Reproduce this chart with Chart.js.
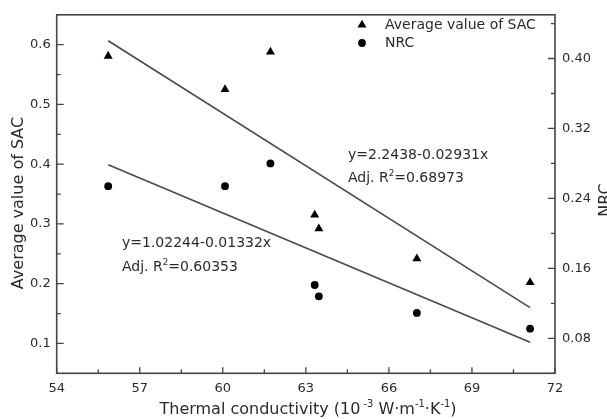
<!DOCTYPE html>
<html>
<head>
<meta charset="utf-8">
<script src="https://cdn.jsdelivr.net/npm/chart.js@4.4.1/dist/chart.umd.min.js"></script>
<style>
  html, body { margin: 0; padding: 0; background: #fff; }
  #chart { display: block; }
</style>
</head>
<body>
<canvas id="chart" width="607" height="419"></canvas>
<script>
// Conductividad térmica de las muestras (10^-3 W·m^-1·K^-1)
const thermal = [55.86, 60.08, 61.72, 63.32, 63.47, 67.01, 71.1];
// Valor medio del coeficiente de absorción (eje izquierdo)
const sacAvg = [0.581, 0.525, 0.588, 0.315, 0.292, 0.242, 0.202];
// NRC (eje derecho)
const nrc = [0.254, 0.254, 0.280, 0.141, 0.128, 0.109, 0.091];

// Rectas de ajuste: extremos en x y valores de cada recta
const fitX = [55.86, 71.1];
const sacFit = [0.6066, 0.1598];   // y=2.2438-0.02931x
const nrcFit = [0.2784, 0.0754];   // y=1.02244-0.01332x

const sacLabels = ['y=2.2438-0.02931x', '0.68973'];
const nrcLabels = ['y=1.02244-0.01332x', '0.60353'];

const FONT = '"DejaVu Sans", Arial, sans-serif';
const INK = '#2b2b2b';

function pts(xs, ys) {
  return xs.map((x, i) => ({ x: x, y: ys[i] }));
}

// Texto con superíndices: partes [{t, sup}]
function richWidth(ctx, parts, size) {
  let w = 0;
  parts.forEach(p => {
    ctx.font = (p.sup ? size * 0.62 : size) + 'px ' + FONT;
    w += ctx.measureText(p.t).width;
  });
  return w;
}
function drawRich(ctx, parts, x, y, size, align) {
  let cx = align === 'center' ? x - richWidth(ctx, parts, size) / 2 : x;
  ctx.textAlign = 'left';
  ctx.textBaseline = 'alphabetic';
  parts.forEach(p => {
    ctx.font = (p.sup ? size * 0.62 : size) + 'px ' + FONT;
    ctx.fillText(p.t, cx, p.sup ? y - size * 0.42 : y);
    cx += ctx.measureText(p.t).width;
  });
}

function triangle(ctx, x, y, r) {
  ctx.beginPath();
  ctx.moveTo(x, y - r);
  ctx.lineTo(x + r * 0.866, y + r * 0.5);
  ctx.lineTo(x - r * 0.866, y + r * 0.5);
  ctx.closePath();
  ctx.fill();
}
function dot(ctx, x, y, r) {
  ctx.beginPath();
  ctx.arc(x, y, r, 0, Math.PI * 2);
  ctx.fill();
}

// Marco, marcas hacia dentro, títulos, leyenda y ecuaciones
const decorPlugin = {
  id: 'decor',
  afterDatasetsDraw(chart) {
    const ctx = chart.ctx;
    const a = chart.chartArea;
    const sx = chart.scales.x, sy = chart.scales.y, sy2 = chart.scales.y2;
    ctx.save();

    ctx.strokeStyle = '#444';
    ctx.lineWidth = 1.6;
    ctx.strokeRect(a.left, a.top, a.right - a.left, a.bottom - a.top);

    ctx.lineWidth = 1.3;
    ctx.beginPath();
    // eje x: mayores cada 3, menores cada 1.5
    for (let v = 54; v <= 72.001; v += 1.5) {
      const px = sx.getPixelForValue(v);
      const len = Math.abs((v - 54) % 3) < 0.01 ? 6 : 4;
      ctx.moveTo(px, a.bottom); ctx.lineTo(px, a.bottom - len);
    }
    // eje izquierdo
    for (let v = 0.1; v <= 0.6001; v += 0.05) {
      const py = sy.getPixelForValue(v);
      const major = Math.abs(Math.round(v * 10) - v * 10) < 0.01;
      ctx.moveTo(a.left, py); ctx.lineTo(a.left + (major ? 7 : 4), py);
    }
    // eje derecho
    for (let v = 0.04; v <= 0.44001; v += 0.04) {
      const py = sy2.getPixelForValue(v);
      const major = Math.abs(Math.round(v / 0.08) - v / 0.08) < 0.01;
      ctx.moveTo(a.right, py); ctx.lineTo(a.right - (major ? 7 : 4), py);
    }
    ctx.stroke();

    ctx.fillStyle = INK;
    // título eje x
    drawRich(ctx, [
      { t: 'Thermal conductivity (10' }, { t: ' -3', sup: true },
      { t: ' W·m' }, { t: '-1', sup: true }, { t: '·K' }, { t: '-1', sup: true }, { t: ')' }
    ], 308, 414, 16, 'center');

    // título eje izquierdo
    ctx.save();
    ctx.translate(23, 203);
    ctx.rotate(-Math.PI / 2);
    ctx.font = '16px ' + FONT;
    ctx.textAlign = 'center';
    ctx.textBaseline = 'alphabetic';
    ctx.fillText('Average value of SAC', 0, 0);
    ctx.restore();

    // título eje derecho
    ctx.save();
    ctx.translate(610, 200);
    ctx.rotate(-Math.PI / 2);
    ctx.font = '16px ' + FONT;
    ctx.textAlign = 'center';
    ctx.fillText('NRC', 0, 0);
    ctx.restore();

    // leyenda
    ctx.fillStyle = '#000';
    triangle(ctx, 362, 25, 5.2);
    dot(ctx, 362, 43, 3.9);
    ctx.fillStyle = INK;
    ctx.font = '14px ' + FONT;
    ctx.textAlign = 'left';
    ctx.textBaseline = 'middle';
    ctx.fillText(chart.data.datasets[0].label, 385, 25);
    ctx.fillText(chart.data.datasets[1].label, 385, 43);

    // ecuaciones de ajuste
    ctx.fillText(sacLabels[0], 348, 155);
    drawRich(ctx, [{ t: 'Adj. R' }, { t: '2', sup: true }, { t: '=' + sacLabels[1] }], 348, 182, 14, 'left');
    ctx.textBaseline = 'middle';
    ctx.fillText(nrcLabels[0], 122, 243);
    drawRich(ctx, [{ t: 'Adj. R' }, { t: '2', sup: true }, { t: '=' + nrcLabels[1] }], 122, 271, 14, 'left');

    ctx.restore();
  }
};

const tickFont = { family: FONT, size: 13 };

new Chart(document.getElementById('chart'), {
  type: 'scatter',
  data: {
    datasets: [{
      label: 'Average value of SAC',
      data: pts(thermal, sacAvg),
      yAxisID: 'y',
      pointStyle: 'triangle',
      pointRadius: 5.2,
      backgroundColor: '#000',
      borderWidth: 0
    }, {
      label: 'NRC',
      data: pts(thermal, nrc),
      yAxisID: 'y2',
      pointStyle: 'circle',
      pointRadius: 3.9,
      backgroundColor: '#000',
      borderWidth: 0
    }, {
      label: 'SAC fit',
      data: pts(fitX, sacFit),
      yAxisID: 'y',
      showLine: true,
      pointRadius: 0,
      borderColor: '#4a4a4a',
      borderWidth: 1.6
    }, {
      label: 'NRC fit',
      data: pts(fitX, nrcFit),
      yAxisID: 'y2',
      showLine: true,
      pointRadius: 0,
      borderColor: '#4a4a4a',
      borderWidth: 1.6
    }]
  },
  options: {
    responsive: false,
    animation: false,
    layout: { padding: { top: 9.3, left: 0, right: 0, bottom: 0 } },
    plugins: { legend: { display: false }, tooltip: { enabled: false } },
    scales: {
      x: {
        type: 'linear', min: 54, max: 72,
        grid: { display: false, drawTicks: false },
        border: { display: false },
        ticks: { stepSize: 3, font: tickFont, color: INK, padding: 8, maxRotation: 0 },
        afterFit: s => { s.height = 45.7; }
      },
      y: {
        type: 'linear', position: 'left', min: 0.05, max: 0.65,
        grid: { display: false, drawTicks: false },
        border: { display: false },
        ticks: {
          font: tickFont, color: INK, padding: 6,
          callback: v => (Math.abs(Math.round(v * 10) - v * 10) < 1e-6 ? v.toFixed(1) : null),
          stepSize: 0.05
        },
        afterFit: s => { s.width = 56.7; }
      },
      y2: {
        type: 'linear', position: 'right', min: 0.04, max: 0.45,
        grid: { display: false, drawTicks: false },
        border: { display: false },
        afterBuildTicks: s => {
          s.ticks = [0.08, 0.16, 0.24, 0.32, 0.40].map(v => ({ value: v }));
        },
        ticks: { font: tickFont, color: INK, padding: 7, callback: v => v.toFixed(2) },
        afterFit: s => { s.width = 52; }
      }
    }
  },
  plugins: [decorPlugin]
});
</script>
</body>
</html>
